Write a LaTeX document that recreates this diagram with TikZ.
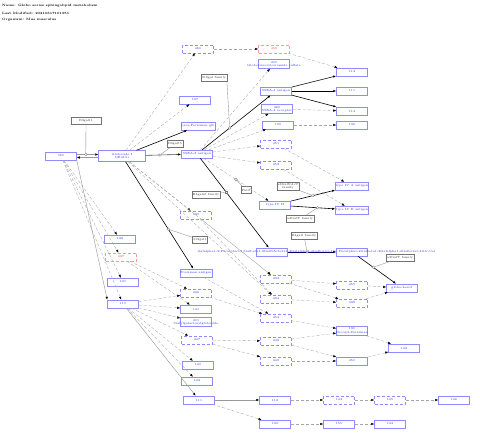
\documentclass[tikz,border=0pt]{standalone}
\usepackage{amsmath}
\usepackage{xcolor}
\usepackage{tikz}
\usetikzlibrary{arrows.meta}

\begin{document}
\begin{tikzpicture}[x=1pt, y=-1pt,
	hdr/.style={anchor=west, inner sep=0pt, font=\fontsize{3.2}{4}\selectfont\bfseries},
	met/.style={draw=blue!45, text=blue!85, fill=white, minimum width=31pt, minimum height=8pt, inner sep=0.3pt, font=\fontsize{3}{3.4}\selectfont, align=center, line width=0.5pt},
	metd/.style={met, densely dashed},
	metr/.style={metd, draw=red!40, text=red!85},
	gene/.style={draw=black!55, text=black!80, fill=white, minimum height=7pt, inner sep=0.8pt, font=\fontsize{3}{3.4}\selectfont, align=center, line width=0.4pt},
	tip/.style={-{Latex[length=3pt,width=2.4pt,color=black]}},
	conv/.style={tip, draw=black!35, densely dashed, line width=0.35pt},
	conv2/.style={tip, draw=black!40, line width=0.45pt},
	rxn/.style={tip, draw=black, line width=0.6pt},
	link/.style={draw=black!45, line width=0.35pt},
	catc/.style={circle, draw=black!55, fill=white, inner sep=0pt, minimum size=2.6pt, line width=0.3pt}]
	\useasboundingbox (0,0) rectangle (480,439);
	% header
	\node[hdr] (hname) at (2,6) {Name: Globo series sphingolipid metabolism};
	\node[hdr] (hdate) at (2,13) {Last Modified: 20210317101351};
	\node[hdr] (horg) at (2,20) {Organism: Mus musculus};
	% metabolites
	\node[met] (n060) at (61,156) {060};
	\node[met, minimum width=47pt, minimum height=11pt] (glob) at (122,156) {Globoside I\\GB4Cer};
	\node[metd] (n460) at (198,49) {460};
	\node[metr] (n459) at (274,49) {459};
	\node[met, minimum height=9pt] (n400) at (274,64) {400\\\makebox[0pt]{Globotriaosylceramide sulfate}};
	\node[met] (n137) at (195,100) {137};
	\node[met] (pfor) at (198,126) {para-Forssman glb};
	\node[met] (ssea3) at (197,154) {SSEA-3 antigen};
	\node[met] (ssea4) at (276,91) {SSEA-4 antigen};
	\node[met, minimum height=9pt] (n420) at (277,109) {420\\SSEA-4 acceptor};
	\node[met] (n135) at (278,125) {135};
	\node[metd] (n451) at (276,144) {451};
	\node[metd] (n452) at (276,165) {452};
	\node[met] (n113) at (352,72) {113};
	\node[met] (n111) at (352,91) {111};
	\node[met] (n114) at (352,111) {114};
	\node[met] (n136) at (352,125) {136};
	\node[met] (typeH) at (275,205) {type IV H};
	\node[met] (typeA) at (352,186) {type IV A antigen};
	\node[met] (typeB) at (352,210) {type IV B antigen};
	\node[metd] (n435) at (196,215) {435};
	\node[met] (galA) at (272,252) {\makebox[0pt]{Galalpha1-3(Fucalpha1-2)Galbeta1-3GalNAcbeta1-3Galalpha1-4Galbeta1-4Glc-Cer}};
	\node[met] (galB) at (352,252) {\makebox[0pt][l]{\hspace{-13pt}Fucalpha1-2Galbeta1-3Galalpha1-4Galbeta1-4Glc-Cer}};
	\node[met] (glex) at (402,288) {globo-Lex-9};
	\node[met] (n138) at (120,239) {138};
	\node[metr] (n437) at (121,257) {437};
	\node[met] (n131) at (123,282) {131};
	\node[met] (n110) at (123,304) {110};
	\node[met] (forss) at (196,273) {Forssman antigen};
	\node[metd] (n436) at (196,293) {436};
	\node[met] (n141) at (196,309) {141};
	\node[met, minimum height=9pt] (n401) at (196,322) {401\\\makebox[0pt]{Sialylgalactosylgloboside}};
	\node[metd] (n447) at (197,340) {447};
	\node[met] (n140) at (198,365) {140};
	\node[met] (n133) at (197,381) {133};
	\node[met] (n111b) at (199,400) {111};
	\node[metd] (n433) at (276,279) {433};
	\node[metd] (n434) at (276,299) {434};
	\node[metd] (n454) at (276,318) {454};
	\node[metd] (n448) at (276,341) {448};
	\node[metd] (n449) at (276,361) {449};
	\node[metd] (n455) at (352,285) {455};
	\node[metd] (n438) at (352,303) {438};
	\node[met, minimum height=9pt] (n130) at (352,331) {130\\\makebox[0pt]{Fucosyl-Forssman}};
	\node[met] (n450) at (352,361) {450};
	\node[met] (n142) at (404,348) {142};
	\node[met] (n112) at (275,400) {112};
	\node[metd] (n143) at (339,400) {143};
	\node[metd] (n145) at (390,400) {145};
	\node[met] (n146) at (454,400) {146};
	\node[met] (n139) at (275,424) {139};
	\node[met] (n155) at (339,424) {155};
	\node[met] (n134) at (390,424) {134};
	% genes
	\node[gene, minimum width=30pt] (b3galt1) at (86,121) {B3galt1};
	\node[gene] (st3gal) at (214,78) {St3gal family};
	\node[gene] (b3galt5) at (175,144) {B3galt5};
	\node[gene] (fut2) at (246,190) {Fut2};
	\node[gene] (a3galnt) at (288,186) {a3GalNAcT\\family};
	\node[gene] (a3galt) at (300,219) {a3GalT family};
	\node[gene] (b4galnt) at (206,195) {B4galnt family};
	\node[gene] (st3gal1) at (200,240) {St3gal1};
	\node[gene] (b4galt) at (304,236) {B4galt family};
	\node[gene] (a2fuct) at (400,258) {a3GalT family};
	% reactions
	\draw[conv2] ([yshift=1.5pt]n060.east) -- ([yshift=1.5pt]glob.west) coordinate[pos=0.42] (k1);
	\draw[conv2] ([yshift=-1.5pt]glob.west) -- ([yshift=-1.5pt]n060.east);
	\draw[conv] (n060) -- (n138);
	\draw[conv] (n060) -- (n437);
	\draw[conv] (n060) -- (n131);
	\draw[conv] (n060) -- (n110);
	\draw[conv2] (n060.south east) -- (n110.north west);
	\draw[conv] (glob) -- (n460);
	\draw[conv] (glob) -- (n137);
	\draw[rxn] (glob) -- (pfor);
	\draw[rxn, draw=black!70] (glob) -- (ssea3) coordinate[pos=0.4] (k2);
	\draw[conv] (glob) -- (n435);
	\draw[rxn] (glob) -- (forss) coordinate[pos=0.63] (k3);
	\draw[conv] (glob) -- (n433);
	\draw[conv] (glob) -- (n434);
	\draw[conv] (n460) -- (n459);
	\draw[conv] (n459) -- (n113);
	\draw[conv] (ssea3) -- (n400);
	\draw[rxn] (ssea3) -- (ssea4) coordinate[pos=0.4] (k4);
	\draw[conv] (ssea3) -- (n420);
	\draw[conv] (ssea3) -- (n135);
	\draw[conv] (ssea3) -- (n451);
	\draw[conv] (ssea3) -- (n452);
	\draw[conv] (ssea3) -- (typeH) coordinate[pos=0.5] (k5);
	\draw[rxn] (ssea3) -- (galA) coordinate[pos=0.38] (k6);
	\draw[rxn] (ssea4) -- (n113);
	\draw[rxn] (ssea4) -- (n111);
	\draw[rxn] (ssea4) -- (n114);
	\draw[conv] (n420) -- (n114);
	\draw[conv] (n135) -- (n136);
	\draw[conv] (n451) -- (typeA);
	\draw[conv] (n452) -- (typeB);
	\draw[rxn] (typeH) -- (typeA) coordinate[pos=0.5] (k7);
	\draw[rxn] (typeH) -- (typeB) coordinate[pos=0.6] (k8);
	\draw[rxn, draw=blue!40!black] (galA) -- (galB) coordinate[pos=0.4] (k9);
	\draw[rxn] (galB) -- (glex) coordinate[pos=0.4] (k10);
	\draw[conv] (n435) -- (n433);
	\draw[conv] (n435) -- (n434);
	\draw[conv] (forss) -- (n454);
	\draw[conv] (n436) -- (n454);
	\draw[conv] (n437) -- (n436);
	\draw[conv] (n437) -- (n141);
	\draw[conv] (n110) -- (n436);
	\draw[conv] (n110) -- (n141);
	\draw[conv] (n110) -- (n401);
	\draw[conv] (n110) -- (n447);
	\draw[conv] (n110) -- (n140);
	\draw[conv] (n110) -- (n133);
	\draw[conv2] (n110) -- (n111b);
	\draw[conv] (n447) -- (n448);
	\draw[conv] (n447) -- (n449);
	\draw[conv] (n433) -- (n455);
	\draw[conv] (n433) -- (n438);
	\draw[conv] (n434) -- (n438);
	\draw[conv] (n454) -- (n130);
	\draw[conv] (n448) -- (n130);
	\draw[conv] (n448) -- (n450);
	\draw[conv] (n449) -- (n450);
	\draw[conv] (n455) -- (glex);
	\draw[conv] (n438) -- (glex);
	\draw[conv] (n130) -- (n142);
	\draw[conv] (n450) -- (n142);
	\draw[conv2] (n111b) -- (n112);
	\draw[conv] (n111b) -- (n139);
	\draw[conv] (n112) -- (n143);
	\draw[conv] (n143) -- (n145);
	\draw[conv] (n145) -- (n146);
	\draw[conv] (n139) -- (n155);
	\draw[conv] (n155) -- (n134);
	% catalysis
	\draw[link] (b3galt1) -- (k1) node[catc] (c1) {};
	\draw[link] (b3galt5) -- (k2) node[catc] (c2) {};
	\draw[link] (st3gal1) -- (k3) node[catc] (c3) {};
	\draw[link] (st3gal.south east) -- (k4) node[catc] (c4) {};
	\draw[link] (fut2) -- (k5) node[catc] (c5) {};
	\draw[link] (b4galnt) -- (k6) node[catc, rectangle] (c6) {};
	\draw[link] (a3galnt) -- (k7) node[catc] (c7) {};
	\draw[link] (a3galt) -- (k8) node[catc] (c8) {};
	\draw[link] (b4galt) -- (k9) node[catc] (c9) {};
	\draw[link] (a2fuct) -- (k10) node[catc] (c10) {};
\end{tikzpicture}
\end{document}
